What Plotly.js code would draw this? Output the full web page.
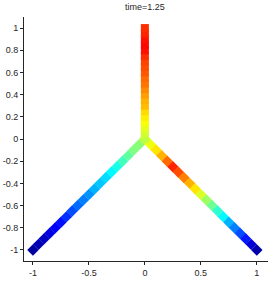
<!DOCTYPE html>
<html>
<head>
<meta charset="utf-8">
<script src="https://cdn.plot.ly/plotly-3.0.1.min.js"></script>
<style>html,body{margin:0;padding:0;background:#fff;}#chart{width:275px;height:284px;}</style>
</head>
<body>
<div id="chart"></div>
<script>
// Node positions along each edge (parameter along edge) and the value (jet colour level)
const titleText = 'time=1.25';
const edgeParam = [0,0.05,0.1,0.15,0.2,0.25,0.3,0.35,0.4,0.45,0.5,0.55,0.6,0.65,0.7,0.75,0.8,0.85,0.9,0.95,1];
// vertical edge (0,0)->(0,1)
const upValues = [0.56,0.58,0.60,0.62,0.64,0.66,0.69,0.70,0.72,0.74,0.76,0.77,0.79,0.80,0.81,0.83,0.86,0.87,0.86,0.84,0.83];
// left diagonal (0,0)->(-1,-1)
const leftValues = [0.52,0.51,0.50,0.47,0.44,0.40,0.37,0.34,0.32,0.30,0.27,0.25,0.23,0.20,0.17,0.14,0.12,0.09,0.06,0.04,0.02];
// right diagonal (0,0)->(1,-1)
const rightValues = [0.58,0.61,0.65,0.70,0.77,0.84,0.80,0.75,0.70,0.65,0.59,0.53,0.48,0.42,0.37,0.30,0.25,0.20,0.15,0.08,0.03];
const xTicks = [-1,-0.5,0,0.5,1];
const xTickText = ['-1','-0.5','0','0.5','1'];
const yTicks = [-1,-0.8,-0.6,-0.4,-0.2,0,0.2,0.4,0.6,0.8,1];
const yTickText = ['-1','-0.8','-0.6','-0.4','-0.2','0','0.2','0.4','0.6','0.8','1'];

const jet = [[0,'#00008F'],[0.125,'#0000FF'],[0.375,'#00FFFF'],[0.625,'#FFFF00'],[0.875,'#FF0000'],[1,'#800000']];

function edgeTrace(xs, ys, vals, symbol, size){
  return {
    type:'scatter', mode:'markers', x:xs, y:ys, hoverinfo:'skip',
    marker:{symbol:symbol, size:size, color:vals, colorscale:jet, cmin:0, cmax:1, line:{width:0}, opacity:1},
    showlegend:false
  };
}
const traces = [
  edgeTrace(edgeParam.map(t=>-t), edgeParam.map(t=>-t), leftValues, 'diamond', 8.8),
  edgeTrace(edgeParam.map(t=>t), edgeParam.map(t=>-t), rightValues, 'diamond', 8.8),
  edgeTrace(edgeParam.map(t=>0), edgeParam.map(t=>t), upValues, 'square', 8)
];
const axisCommon = {showgrid:false, zeroline:false, showline:true, linecolor:'#262626', linewidth:1,
  ticks:'outside', ticklen:3, tickcolor:'#262626', tickfont:{family:'Liberation Sans, Arial, sans-serif', size:9, color:'#262626'}, fixedrange:true};
const layout = {
  width:275, height:284,
  margin:{l:24, r:7, t:17, b:23, pad:0},
  paper_bgcolor:'#fff', plot_bgcolor:'#fff',
  title:{text:titleText, font:{family:'Liberation Sans, Arial, sans-serif', size:9, color:'#262626'}, x:0.527, xanchor:'center', y:0.975, yanchor:'middle'},
  xaxis:Object.assign({}, axisCommon, {range:[-1.08,1.1], tickvals:xTicks, ticktext:xTickText}),
  yaxis:Object.assign({}, axisCommon, {range:[-1.1,1.1], tickvals:yTicks, ticktext:yTickText}),
  showlegend:false
};
Plotly.newPlot('chart', traces, layout, {staticPlot:true, displayModeBar:false});
</script>
</body>
</html>
